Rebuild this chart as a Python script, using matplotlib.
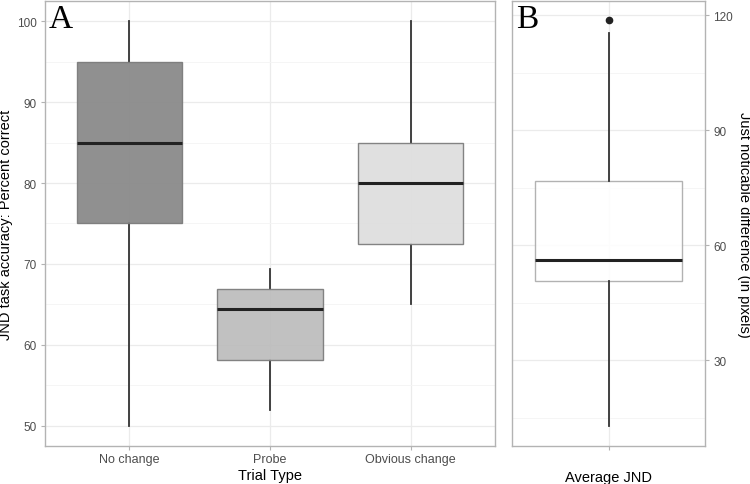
import matplotlib
matplotlib.use("Agg")
import matplotlib.pyplot as plt

# Panel A: accuracy per trial type
trial_types = ["No change", "Probe", "Obvious change"]
acc_whislo = [50, 51.9, 65]
acc_q1 = [75, 58.1, 72.5]
acc_med = [85, 64.4, 80]
acc_q3 = [95, 66.9, 85]
acc_whishi = [100, 69.4, 100]
acc_fills = ["#878787", "#bcbcbc", "#dedede"]

# Panel B: average JND
jnd_whislo = [12.9]
jnd_q1 = [50.6]
jnd_med = [56.1]
jnd_q3 = [76.9]
jnd_whishi = [115.3]
jnd_fliers = [[118.7]]

plt.rcParams['font.family'] = ['Liberation Sans', 'DejaVu Sans']

fig = plt.figure(figsize=(7.5, 4.85), dpi=100)
ax1 = fig.add_axes([0.06, 0.0784, 0.60, 0.9176])
ax2 = fig.add_axes([0.6827, 0.0784, 0.2573, 0.9176])


def style_axes(ax):
    for s in ax.spines.values():
        s.set_color("#b3b3b3")
        s.set_linewidth(1.0)
    ax.grid(True, which="major", color="#ebebeb", linewidth=0.9, zorder=0)
    ax.grid(True, which="minor", axis="y", color="#f4f4f4", linewidth=0.6, zorder=0)
    ax.set_axisbelow(True)
    ax.tick_params(which="major", length=3, color="#b3b3b3", labelsize=9,
                   labelcolor="#4d4d4d", pad=2)
    ax.tick_params(axis="y", labelsize=8.5, pad=3)
    ax.tick_params(which="minor", length=0)


def make_stats(lo, q1, med, q3, hi, fliers=None):
    stats = []
    for i in range(len(med)):
        stats.append({
            "whislo": lo[i], "q1": q1[i], "med": med[i], "q3": q3[i],
            "whishi": hi[i], "fliers": fliers[i] if fliers else [],
        })
    return stats


# Panel A
stats_a = make_stats(acc_whislo, acc_q1, acc_med, acc_q3, acc_whishi)
bp = ax1.bxp(stats_a, positions=range(len(trial_types)), widths=0.75,
             patch_artist=True, showcaps=False,
             whiskerprops=dict(color="#333333", linewidth=1.3),
             medianprops=dict(color="#222222", linewidth=2.2),
             boxprops=dict(edgecolor="#7a7a7a", linewidth=1.0))
for patch, c in zip(bp["boxes"], acc_fills):
    patch.set_facecolor(c)
    patch.set_alpha(0.92)
    patch.set_zorder(2)
for w in bp["whiskers"]:
    w.set_zorder(1.5)

ax1.set_xlim(-0.6, 2.6)
ax1.set_ylim(47.5, 102.5)
ax1.set_yticks([50, 60, 70, 80, 90, 100])
ax1.set_yticks([55, 65, 75, 85, 95], minor=True)
ax1.set_xticks(range(len(trial_types)))
ax1.set_xticklabels(trial_types)
style_axes(ax1)
ax1.set_xlabel("Trial Type", fontsize=10.5, labelpad=2)
ax1.set_ylabel("JND task accuracy: Percent correct", fontsize=10.5, labelpad=3)
ax1.text(0.008, 0.995, "A", transform=ax1.transAxes, ha="left", va="top",
         fontsize=24, family=["Liberation Serif", "DejaVu Serif"])

# Panel B
stats_b = make_stats(jnd_whislo, jnd_q1, jnd_med, jnd_q3, jnd_whishi, jnd_fliers)
bp2 = ax2.bxp(stats_b, positions=[0], widths=0.75, patch_artist=True,
              showcaps=False,
              whiskerprops=dict(color="#333333", linewidth=1.3),
              medianprops=dict(color="#222222", linewidth=2.2),
              boxprops=dict(edgecolor="#aaaaaa", linewidth=1.0),
              flierprops=dict(marker="o", markersize=4.5, markerfacecolor="#222222",
                              markeredgecolor="#222222"))
for patch in bp2["boxes"]:
    patch.set_facecolor("white")
    patch.set_alpha(0.9)
    patch.set_zorder(2)

ax2.set_xlim(-0.495, 0.495)
ax2.set_ylim(7.6, 123.8)
ax2.set_yticks([30, 60, 90, 120])
ax2.set_yticks([15, 45, 75, 105], minor=True)
ax2.set_xticks([0])
ax2.set_xticklabels([""])
ax2.yaxis.tick_right()
ax2.yaxis.set_label_position("right")
style_axes(ax2)
ax2.set_xlabel("Average JND", fontsize=10.5, labelpad=12)
ax2.set_ylabel("Just noticable difference (in pixels)", fontsize=10.5,
               rotation=-90, labelpad=13)
ax2.text(0.02, 0.995, "B", transform=ax2.transAxes, ha="left", va="top",
         fontsize=24, family=["Liberation Serif", "DejaVu Serif"])

fig.savefig("out.png", dpi=100)
